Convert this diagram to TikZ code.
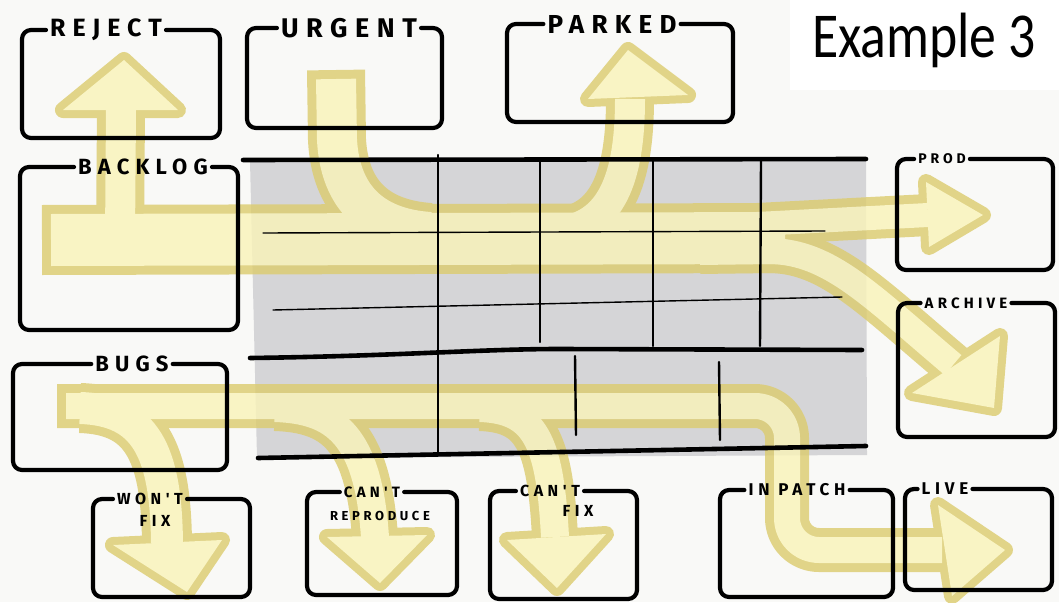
\documentclass[tikz,border=0pt]{standalone}
\usepackage{fontspec}
\newfontfamily\hand[LetterSpace=28]{Fira Sans}
\newfontfamily\exfont[FakeStretch=0.84]{Carlito}
\definecolor{bgc}{RGB}{249,249,247}
\definecolor{tgray}{RGB}{213,213,215}
\definecolor{bandout}{RGB}{220,204,112}
\definecolor{bandin}{RGB}{249,243,185}
\newcommand\kbox[5]{\draw[boxline] ([xshift=4pt]#1.east) -| (#4,#5) -| (#2,#3) -- ([xshift=-4pt]#1.west);}
\begin{document}
\begin{tikzpicture}[x=1pt,y=-1pt,
  boxline/.style={line width=4.2pt, line cap=round, line join=round, rounded corners=9pt, black},
  rulethick/.style={line width=4.6pt, line cap=round, black},
  rulethin/.style={line width=1.4pt, line cap=round, black},
  rulev/.style={line width=2.4pt, line cap=round, black},
  bo/.style={draw=bandout, line width=#1, line cap=butt, line join=round},
  bi/.style={draw=bandin, line width=#1, line cap=butt, line join=round},
  hout/.style={draw=bandout, fill=bandout, line width=16pt, line join=round},
  hin/.style={fill=bandin},
  lab/.style={inner sep=0pt, text=black, font={\hand\bfseries\fontsize{#1}{#1}\selectfont}}
]
\useasboundingbox (0,0) rectangle (1059,602);
\fill[bgc] (0,0) rectangle (1059,602);
\fill[white] (790,0) rectangle (1059,90);
% table background
\fill[tgray] (250,161) -- (866,160) -- (867,455) -- (257,458) -- cycle;

% ---------- key points of the bands ----------
\coordinate (bl0) at (42,240); \coordinate (bl0i) at (51,240); \coordinate (bl1) at (785,238);
\coordinate (rj0) at (120,240); \coordinate (rj1) at (121,110);
\coordinate (rjA) at (63,110); \coordinate (rjB) at (178,110); \coordinate (rjT) at (124,60);
\coordinate (ug0) at (336,70); \coordinate (ug0i) at (336,79); \coordinate (ug1) at (337,140); \coordinate (ug2) at (430,232);
\coordinate (pk0) at (555,232); \coordinate (pk1) at (630,99);
\coordinate (pkA) at (588,99); \coordinate (pkB) at (688,95); \coordinate (pkT) at (628,50);
\coordinate (pd0) at (700,227); \coordinate (pd1) at (928,215);
\coordinate (pdA) at (926,182); \coordinate (pdT) at (983,215); \coordinate (pdB) at (929,247);
\coordinate (ar0) at (700,252); \coordinate (ar1) at (770,251); \coordinate (ar2) at (953,365);
\coordinate (arA) at (912,393); \coordinate (arB) at (1000,336); \coordinate (arT) at (994,408);
\coordinate (bg0) at (57,406); \coordinate (bg0i) at (66,406); \coordinate (bg1) at (787,406); \coordinate (bg2) at (787,550); \coordinate (bg3) at (942,550);
\coordinate (lvA) at (938,505); \coordinate (lvT) at (1005,550); \coordinate (lvB) at (952,596);
\coordinate (wf0) at (80,408); \coordinate (wf1) at (167,543);
\coordinate (wfA) at (113,545); \coordinate (wfB) at (222,540); \coordinate (wfT) at (187,592);
\coordinate (cr0) at (275,408); \coordinate (cr1) at (375,537);
\coordinate (crA) at (327,537); \coordinate (crB) at (427,535); \coordinate (crT) at (380,583);
\coordinate (cf0) at (480,408); \coordinate (cf1) at (555,537);
\coordinate (cfA) at (507,540); \coordinate (cfB) at (606,534); \coordinate (cfT) at (557,588);

\begin{scope}[transparency group, opacity=0.82]
% ---------- outer (outline) layer ----------
\draw[bo=70] (bl0) -- (bl1);
\draw[bo=48] (rj0) -- (rj1);
\draw[bo=58] (ug0) -- (ug1) .. controls (340,195) and (370,228) .. (ug2);
\draw[bo=48] (pk0) .. controls (605,228) and (630,190) .. (pk1);
\draw[bo=42] (pd0) -- (pd1);
\draw[bo=44] (ar0) -- (ar1) .. controls (830,252) and (870,295) .. (ar2);
\draw[bo=44, rounded corners=32pt] (bg0) -- (bg1) -- (bg2) -- (bg3);
\draw[bo=50] (wf0) .. controls (145,410) and (166,450) .. (wf1);
\draw[bo=46] (cr0) .. controls (335,410) and (368,435) .. (cr1);
\draw[bo=46] (cf0) .. controls (535,410) and (550,440) .. (cf1);
\foreach \h in {rj,pk,wf,cr,cf} \filldraw[hout] (\h A) -- (\h T) -- (\h B) -- cycle;
\filldraw[hout] (pdA) -- (pdT) -- (pdB) -- cycle;
\filldraw[hout] (arA) -- (arT) -- (arB) -- cycle;
\filldraw[hout] (lvA) -- (lvT) -- (lvB) -- cycle;

% ---------- inner (light) layer ----------
\draw[bi=52] (bl0i) -- (bl1);
\draw[bi=30] (rj0) -- (rj1);
\draw[bi=40] (ug0i) -- (ug1) .. controls (340,195) and (370,228) .. (ug2);
\draw[bi=30] (pk0) .. controls (605,228) and (630,190) .. (pk1);
\draw[bi=24] (pd0) -- (pd1);
\draw[bi=26] (ar0) -- (ar1) .. controls (830,252) and (870,295) .. (ar2);
\draw[bi=26, rounded corners=32pt] (bg0i) -- (bg1) -- (bg2) -- (bg3);
\draw[bi=32] (wf0) .. controls (145,410) and (166,450) .. (wf1);
\draw[bi=28] (cr0) .. controls (335,410) and (368,435) .. (cr1);
\draw[bi=28] (cf0) .. controls (535,410) and (550,440) .. (cf1);
\foreach \h in {rj,pk,wf,cr,cf} \fill[hin] (\h A) -- (\h T) -- (\h B) -- cycle;
\fill[hin] (pdA) -- (pdT) -- (pdB) -- cycle;
\fill[hin] (arA) -- (arT) -- (arB) -- cycle;
\fill[hin] (lvA) -- (lvT) -- (lvB) -- cycle;
\end{scope}

% ---------- table rules ----------
\draw[rulethick] (243,160) -- (866,159);
\draw[rulethick] (250,358) .. controls (400,356) and (480,349) .. (560,349) -- (862,350);
\draw[rulethick] (258,458) -- (866,446);
\draw[rulethin] (263,233) -- (825,231);
\draw[rulethin] (273,310) -- (842,297);
\draw[rulev] (438,155) -- (438,452);
\draw[rulev] (540,159) -- (540,342);
\draw[rulev] (653,159) -- (653,346);
\draw[rulev] (761,160) -- (760,346);
\draw[rulev] (575,356) -- (576,435);
\draw[rulev] (719,362) -- (720,440);

% ---------- labelled boxes ----------
\node[lab=25] (lrej) at (106,30) {REJECT};
\kbox{lrej}{22}{30}{220}{138}
\node[lab=27] (lurg) at (349,28) {URGENT};
\kbox{lurg}{247}{28}{442}{128}
\node[lab=26] (lpark) at (612,24) {PARKED};
\kbox{lpark}{507}{24}{733}{122}
\node[lab=22] (lback) at (143,167) {BACKLOG};
\kbox{lback}{20}{167}{238}{330}
\node[lab=22] (lbugs) at (132,364) {BUGS};
\kbox{lbugs}{13}{364}{227}{470}
\node[lab=14] (lprod) at (942,159) {PROD};
\kbox{lprod}{897}{159}{1053}{270}
\node[lab=15] (larch) at (966,303) {ARCHIVE};
\kbox{larch}{898}{303}{1055}{437}
\node[lab=16] (lwont) at (150,499) {WON'T};
\node[lab=16] (lwontfix) at (155,521) {FIX};
\kbox{lwont}{93}{499}{250}{597}
\node[lab=15] (lcant) at (372,492) {CAN'T};
\node[lab=13] (lrepro) at (380,516) {REPRODUCE};
\kbox{lcant}{307}{492}{457}{595}
\node[lab=16] (lcant2) at (550,491) {CAN'T};
\node[lab=16] (lcantfix) at (578,511) {FIX};
\kbox{lcant2}{490}{491}{637}{599}
\node[lab=17] (lpatch) at (797,490) {IN~PATCH};
\kbox{lpatch}{720}{490}{893}{597}
\node[lab=17] (llive) at (945,489) {LIVE};
\kbox{llive}{905}{489}{1052}{590}

% ---------- title ----------
\node[inner sep=0pt, font={\exfont\fontsize{64}{64}\selectfont}] (title) at (924,40) {Example 3};
\end{tikzpicture}
\end{document}
